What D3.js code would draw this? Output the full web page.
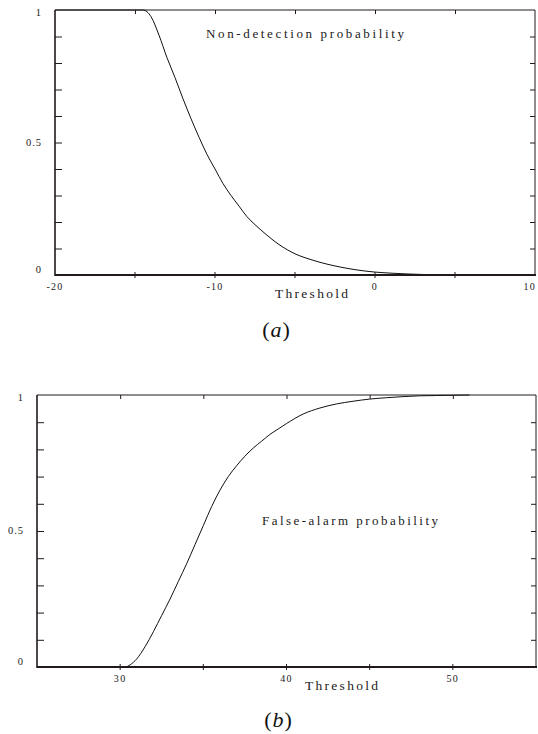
<!DOCTYPE html>
<html>
<head>
<meta charset="utf-8">
<script src="https://cdn.jsdelivr.net/npm/d3@7"></script>
<style>
body { margin: 0; background: #fff; }
svg text { font-family: "Liberation Serif", "DejaVu Serif", "Times New Roman", Times, serif; }
</style>
</head>
<body>
<svg id="chart" width="538" height="734"></svg>
<script>
// panel (a): non-detection probability vs threshold
var thrA = [-20, -14.5, -14, -13.5, -13, -12.5, -12, -11.5, -11, -10.5, -10, -9.5, -9, -8.5, -8, -7.5, -7, -6, -5, -4, -3, -2, -1, 0, 1, 2, 3, 4, 5, 6];
var probA = [1, 1, 0.975, 0.905, 0.82, 0.745, 0.665, 0.59, 0.52, 0.455, 0.40, 0.345, 0.30, 0.26, 0.22, 0.19, 0.163, 0.115, 0.08, 0.058, 0.041, 0.028, 0.018, 0.011, 0.007, 0.004, 0.002, 0.001, 0.0003, 0];
var xLabelsA = [-20, -10, 0, 10];

// panel (b): false-alarm probability vs threshold
var thrB = [25, 30.3, 30.6, 31, 31.5, 32, 32.5, 33, 33.5, 34, 34.5, 35, 35.5, 36, 36.5, 37, 37.5, 38, 38.5, 39, 39.5, 40, 41, 42, 43, 44, 45, 46, 47, 48, 49, 50, 51];
var probB = [0, 0, 0.008, 0.03, 0.075, 0.13, 0.19, 0.25, 0.315, 0.38, 0.45, 0.52, 0.59, 0.65, 0.70, 0.74, 0.775, 0.805, 0.83, 0.855, 0.875, 0.895, 0.93, 0.952, 0.967, 0.977, 0.985, 0.99, 0.994, 0.997, 0.998, 0.999, 1];
var xLabelsB = [30, 40, 50];

var yLabels = [0, 0.5, 1];
var yMinor = [0.1, 0.2, 0.3, 0.4, 0.5, 0.6, 0.7, 0.8, 0.9];

var svg = d3.select("#chart");
var ink = "#221a1a";

function panel(opt) {
    var x = d3.scaleLinear().domain(opt.xDomain).range([opt.left, opt.right]);
    var y = d3.scaleLinear().domain([0, 1]).range([opt.bottom, opt.top]);
    var g = svg.append("g");
    var xMinor = d3.range(opt.xDomain[0] + 5, opt.xDomain[1], 5);

    // curve
    var pts = opt.thr.map(function (d, i) { return [d, opt.prob[i]]; });
    g.append("path")
        .datum(pts)
        .attr("fill", "none")
        .attr("stroke", "#111")
        .attr("stroke-width", 1)
        .attr("d", d3.line().curve(d3.curveMonotoneX)
            .x(function (d) { return x(d[0]); }).y(function (d) { return y(d[1]); }));

    // inward ticks: left, right, top
    g.append("g").attr("transform", "translate(" + opt.left + ",0)")
        .call(d3.axisRight(y).tickValues(yMinor).tickSize(7).tickFormat(""))
        .call(function (a) { a.select(".domain").remove(); a.selectAll("line").attr("stroke", ink); });
    g.append("g").attr("transform", "translate(" + opt.right + ",0)")
        .call(d3.axisLeft(y).tickValues(yMinor).tickSize(5).tickFormat(""))
        .call(function (a) { a.select(".domain").remove(); a.selectAll("line").attr("stroke", ink); });
    g.append("g").attr("transform", "translate(0," + opt.top + ")")
        .call(d3.axisBottom(x).tickValues(xMinor).tickSize(4).tickFormat(""))
        .call(function (a) { a.select(".domain").remove(); a.selectAll("line").attr("stroke", ink); });
    // bottom ticks cross the axis line
    g.selectAll(".btick").data(xMinor).enter().append("line")
        .attr("x1", function (d) { return x(d); }).attr("x2", function (d) { return x(d); })
        .attr("y1", opt.bottom - 3).attr("y2", opt.bottom + 3)
        .attr("stroke", ink);

    // frame
    g.append("line").attr("x1", opt.left).attr("x2", opt.right).attr("y1", opt.top).attr("y2", opt.top)
        .attr("stroke", ink).attr("stroke-width", 1);
    g.append("line").attr("x1", opt.right).attr("x2", opt.right).attr("y1", opt.top).attr("y2", opt.bottom)
        .attr("stroke", ink).attr("stroke-width", 1);
    g.append("line").attr("x1", opt.left).attr("x2", opt.left).attr("y1", opt.top).attr("y2", opt.bottom + 1)
        .attr("stroke", ink).attr("stroke-width", 1.6);
    g.append("line").attr("x1", opt.left).attr("x2", opt.right + 1).attr("y1", opt.bottom).attr("y2", opt.bottom)
        .attr("stroke", ink).attr("stroke-width", 2);

    // x tick labels
    g.selectAll(".xl").data(opt.xLabels).enter().append("text")
        .attr("x", function (d) { return d === opt.xDomain[1] ? x(d) + 1 : x(d); })
        .attr("y", opt.bottom + 15)
        .attr("text-anchor", function (d) { return d === opt.xDomain[1] ? "end" : "middle"; })
        .attr("font-size", 10)
        .attr("letter-spacing", 1.3)
        .attr("fill", ink)
        .text(function (d) { return d; });

    // y tick labels
    g.selectAll(".yl").data(yLabels).enter().append("text")
        .attr("x", opt.left - 13)
        .attr("y", function (d) { return y(d) + (d === 0 ? -2 : d === 1 ? 6 : 3); })
        .attr("text-anchor", "end")
        .attr("font-size", 10.5)
        .attr("letter-spacing", 1)
        .attr("fill", ink)
        .text(function (d) { return d; });

    // in-plot title
    g.append("text")
        .attr("x", opt.title[1]).attr("y", opt.title[2])
        .attr("font-size", 13)
        .attr("textLength", opt.title[3]).attr("lengthAdjust", "spacing")
        .attr("fill", ink)
        .text(opt.title[0]);

    // axis title
    g.append("text")
        .attr("x", opt.xTitle[0]).attr("y", opt.xTitle[1])
        .attr("font-size", 13.5)
        .attr("textLength", 73).attr("lengthAdjust", "spacing")
        .attr("fill", ink)
        .text("Threshold");

    // caption
    var cap = g.append("text")
        .attr("x", opt.caption[1]).attr("y", opt.caption[2])
        .attr("text-anchor", "middle")
        .attr("font-size", 22)
        .attr("fill", "#111");
    cap.append("tspan").text("(");
    cap.append("tspan").attr("font-style", "italic").attr("dx", 1).text(opt.caption[0]);
    cap.append("tspan").attr("dx", 1).text(")");
}

panel({
    thr: thrA, prob: probA, xLabels: xLabelsA,
    xDomain: [-20, 10],
    left: 55, right: 535, top: 10, bottom: 275,
    title: ["Non-detection probability", 206, 38, 198],
    xTitle: [275, 298],
    caption: ["a", 276, 337]
});

panel({
    thr: thrB, prob: probB, xLabels: xLabelsB,
    xDomain: [25, 55],
    left: 37, right: 536, top: 395, bottom: 667,
    title: ["False-alarm probability", 262, 525, 176],
    xTitle: [305, 690],
    caption: ["b", 278, 727]
});
</script>
</body>
</html>
